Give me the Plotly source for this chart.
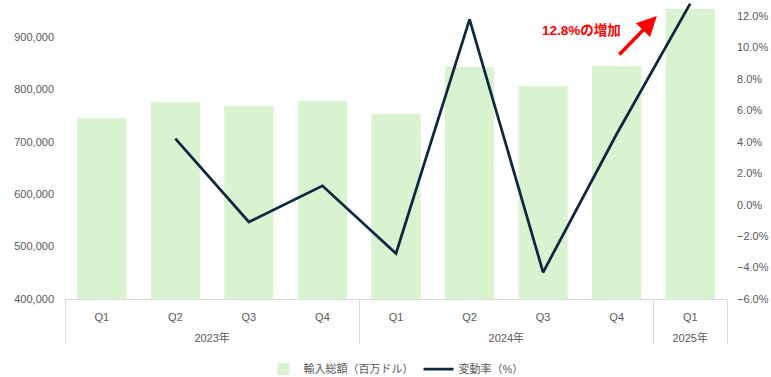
import plotly.graph_objects as go

years = ["2023年", "2023年", "2023年", "2023年", "2024年", "2024年", "2024年", "2024年", "2025年"]
quarters = ["Q1", "Q2", "Q3", "Q4", "Q1", "Q2", "Q3", "Q4", "Q1"]
imports = [745400, 775900, 768300, 777900, 753000, 842700, 806500, 844600, 953400]
change_pct = [None, 4.2, -1.1, 1.2, -3.1, 11.8, -4.3, 4.5, 12.8]

bar_name = "輸入総額（百万ドル）"
line_name = "変動率（%）"
note_text = "12.8%の増加"

GRAY = "#595959"
FONT = "Liberation Sans, Noto Sans CJK JP, sans-serif"

# outer level labels pushed one line lower to mimic the spacing of the reference
year_labels = ["<br>" + y for y in years]
x_cats = [year_labels, quarters]

fig = go.Figure()
fig.add_trace(go.Bar(
    x=x_cats, y=imports, name=bar_name,
    marker=dict(color="#D9F2D0", line=dict(width=0)),
    yaxis="y",
))
fig.add_trace(go.Scatter(
    x=x_cats, y=change_pct, name=line_name, mode="lines",
    line=dict(color="#0E2841", width=2.75), yaxis="y2", connectgaps=False,
))

fig.update_layout(
    width=771, height=377,
    margin=dict(l=65, r=44, t=2, b=78, autoexpand=False),
    paper_bgcolor="white", plot_bgcolor="white",
    font=dict(family=FONT, size=11, color=GRAY),
    bargap=0.33,
    showlegend=True,
    legend=dict(orientation="h", x=0.5, xanchor="center", y=-0.187, yanchor="top",
                font=dict(size=11, color=GRAY), itemwidth=30, traceorder="normal"),
    xaxis=dict(
        type="multicategory", showgrid=False, showline=True, linecolor="#D9D9D9",
        linewidth=1, ticks="", showdividers=True, dividercolor="#D9D9D9", dividerwidth=1,
        automargin=False, ticklabelstandoff=8,
        tickfont=dict(size=11, color=GRAY, family="Liberation Sans Narrow, Liberation Sans, Noto Sans CJK JP"),
    ),
    yaxis=dict(
        range=[400000, 966800], dtick=100000, tickformat=",.0f", showgrid=False,
        zeroline=False, showline=False, ticks="", automargin=False, ticklabelstandoff=10,
        tickfont=dict(size=11, color=GRAY),
    ),
    yaxis2=dict(
        overlaying="y", side="right", range=[-6, 12.9], dtick=2,
        ticksuffix="%", tickformat=".1f", showgrid=False, zeroline=False,
        showline=False, ticks="", automargin=False, ticklabelstandoff=9,
        tickfont=dict(size=11, color=GRAY),
    ),
    annotations=[
        dict(xref="paper", yref="paper", x=0.894, y=0.953, ax=-39, ay=40,
             axref="pixel", ayref="pixel", showarrow=True, arrowhead=2,
             arrowsize=1.1, arrowwidth=3.6, arrowcolor="#FF0000", text=""),
        dict(xref="paper", yref="paper", x=0.7795, y=0.906, xanchor="center", yanchor="middle",
             showarrow=False, text="<b>" + note_text + "</b>",
             font=dict(size=13.5, color="#FF0000", family=FONT)),
    ],
)

fig.write_html("out.html", config={"displayModeBar": False},
               post_script="document.body.style.margin='0';document.body.style.overflow='hidden';")
